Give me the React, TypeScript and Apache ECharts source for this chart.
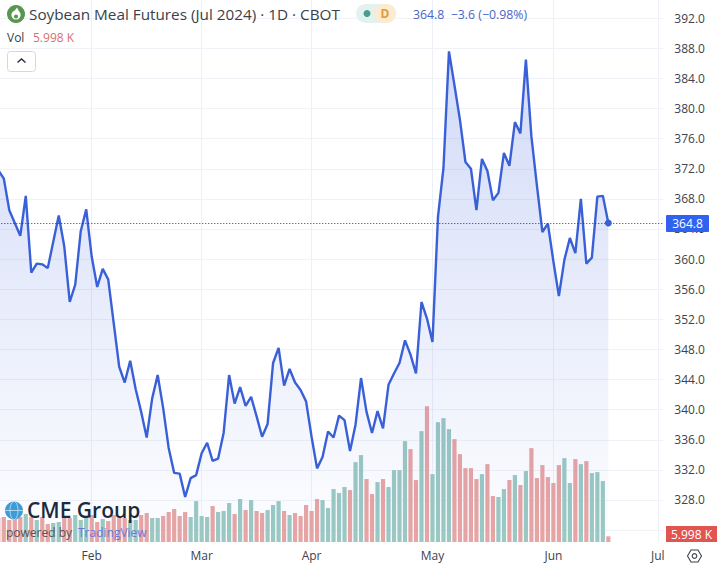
import React, { useEffect, useRef } from "react";
import * as echarts from "echarts";

const tradingDates: string[] = [
  "01-08","01-09","01-10","01-11","01-12","01-16","01-17","01-18","01-19","01-22","01-23","01-24","01-25","01-26","01-29","01-30","01-31",
  "02-01","02-02","02-05","02-06","02-07","02-08","02-09","02-12","02-13","02-14","02-15","02-16","02-20","02-21","02-22","02-23","02-26","02-27","02-28","02-29",
  "03-01","03-04","03-05","03-06","03-07","03-08","03-11","03-12","03-13","03-14","03-15","03-18","03-19","03-20","03-21","03-22","03-25","03-26","03-27","03-28",
  "04-01","04-02","04-03","04-04","04-05","04-08","04-09","04-10","04-11","04-12","04-15","04-16","04-17","04-18","04-19","04-22","04-23","04-24","04-25","04-26","04-29","04-30",
  "05-01","05-02","05-03","05-06","05-07","05-08","05-09","05-10","05-13","05-14","05-15","05-16","05-17","05-20","05-21","05-22","05-23","05-24","05-28","05-29","05-30","05-31",
  "06-03","06-04","06-05","06-06","06-07","06-10","06-11","06-12","06-13","06-14","06-17",
  "06-18","06-20","06-21","06-24","06-25","06-26","06-27","06-28","07-01","07-02",
];

const monthTicks: Record<string, string> = {
  "02-01": "Feb", "03-01": "Mar", "04-01": "Apr", "05-01": "May", "06-03": "Jun", "07-01": "Jul",
};

const closes: number[] = [
  371.8,370.7,366.5,364.8,363.1,368.4,358.2,359.4,359.3,358.8,362.3,365.8,361.7,354.3,356.6,363.7,366.6,
  360.3,356.3,358.7,357.3,351.5,345.7,343.6,346.5,342.7,339.7,336.3,341.5,344.6,340.2,334.9,331.6,331.5,328.4,330.9,331.3,
  334.2,335.6,333.2,333.5,336.9,344.6,340.8,343.0,340.5,341.7,339.1,336.4,338.1,346.2,348.2,343.2,345.4,343.6,342.6,341.1,
  336.4,332.2,333.7,337.1,336.3,339.2,338.6,334.5,338.0,344.2,339.7,336.9,339.8,337.5,343.3,344.8,346.2,349.2,347.3,344.8,354.3,352.1,
  349.0,365.6,372.1,387.6,383.1,378.5,372.9,372.0,366.5,373.3,371.7,367.8,368.8,374.1,372.4,378.2,376.7,386.5,376.3,369.8,363.6,364.7,
  359.7,355.1,359.9,362.8,360.8,368.0,359.4,360.2,368.3,368.4,364.8,
];

const volumesK: number[] = [
  25.2,26.3,23.1,26.3,26.3,29.4,26.3,23.1,26.3,18.9,20.0,21.0,25.2,25.2,28.4,23.1,25.2,
  28.4,21.0,24.2,22.0,28.4,25.2,25.2,23.1,23.1,28.4,30.5,25.2,25.2,27.3,31.5,34.7,27.3,31.5,26.3,43.0,
  27.3,26.3,37.8,31.5,32.6,41.0,29.4,45.2,33.6,44.1,32.6,30.5,33.6,38.9,43.0,32.6,28.4,30.5,27.3,38.9,
  32.6,45.2,44.1,35.7,55.7,51.5,57.8,54.6,84.0,91.4,66.2,50.4,63.0,66.2,57.8,75.6,75.6,106.1,97.7,65.1,116.6,142.8,
  71.4,126.0,130.2,118.7,108.2,92.4,77.7,77.7,66.2,71.4,81.9,48.3,47.3,55.7,65.1,70.4,59.9,74.6,98.7,67.2,80.9,
  68.3,62.0,80.9,88.2,62.0,87.2,81.9,85.1,72.5,73.5,64.1,5.998,
];

// One letter per session: u = teal (up day), d = red (down day)
const volumeDirections: string[] = [
  "d","d","d","d","d","u","d","u","d","d","u","u","d","d","u","u","u",
  "d","d","u","d","d","d","d","u","u","d","d","u","u","d","d","d","d","d","u","u",
  "u","u","d","u","u","u","d","u","d","u","d","d","u","u","u","d","u","d","d","d",
  "d","d","u","u","u","u","u","d","u","u","d","d","u","d","u","u","u","u","d","d","u","d",
  "u","u","u","u","d","d","d","d","d","u","d","d","u","u","d","u","d","u","d","d","d","d",
  "d","d","u","u","d","u","d","u","u","u","d",
];

const lastPrice = closes[closes.length - 1];
const TITLE = "Soybean Meal Futures (Jul 2024) · 1D · CBOT";
const QUOTE = "364.8  −3.6 (−0.98%)";
const PRICE_TAG = "364.8";
const VOL_TAG = "5.998 K";
const FONT = "'Open Sans', 'Noto Sans', sans-serif";

export default function App() {
  const ref = useRef<HTMLDivElement>(null);
  useEffect(() => {
    if (!ref.current) return;
    const chart = echarts.init(ref.current, null, { renderer: "svg" });
    const isTick = (_: number, value: string) => value in monthTicks;
    // The chart's div starts 2px left of the page, so the first session falls just off the picture.
    const gridLeft = 0.3;
    const gridWidth = 665;
    chart.setOption({
      animation: false,
      backgroundColor: "#ffffff",
      textStyle: { fontFamily: FONT },
      grid: [
        { left: gridLeft, width: gridWidth, top: 18.2, height: 542 },
        { left: gridLeft, width: gridWidth, top: 0, height: 542 },
      ],
      xAxis: [
        {
          gridIndex: 0, type: "category", data: tradingDates, boundaryGap: false,
          axisLine: { show: false }, axisTick: { show: false }, axisLabel: { show: false }, splitLine: { show: false },
        },
        {
          gridIndex: 1, type: "category", data: tradingDates, boundaryGap: false,
          axisLine: { show: false }, axisTick: { show: false },
          axisLabel: {
            interval: isTick, margin: 7, fontSize: 12, color: "#3d424d", fontFamily: FONT,
            formatter: (v: string) => monthTicks[v] ?? "",
          },
          splitLine: { show: true, interval: isTick, lineStyle: { color: "#edf0f6", width: 1 } },
        },
      ],
      yAxis: [
        {
          gridIndex: 0, type: "value", position: "right", min: 320, max: 392, interval: 4,
          axisLine: { show: false }, axisTick: { show: false },
          axisLabel: { margin: 11, fontSize: 12, color: "#3d424d", showMinLabel: false, formatter: (v: number) => v.toFixed(1), fontFamily: FONT },
          splitLine: { show: true, showMinLine: false, lineStyle: { color: "#f0f2f7", width: 1 } },
        },
        {
          gridIndex: 1, type: "value", min: 0, max: 570, show: false, splitLine: { show: false },
        },
      ],
      series: [
        {
          type: "bar", xAxisIndex: 1, yAxisIndex: 1, barWidth: 4.2, z: 1,
          data: volumesK.map((v, i) => ({
            value: v,
            itemStyle: { color: volumeDirections[i] === "u" ? "#9bc9c3" : "#e8a5a4" },
          })),
        },
        {
          type: "line", xAxisIndex: 0, yAxisIndex: 0, data: closes, z: 2, showSymbol: false,
          lineStyle: { color: "#3a60d8", width: 2.4 },
          areaStyle: {
            origin: 322.42,
            color: new echarts.graphic.LinearGradient(0, 0, 0, 1, [
              { offset: 0, color: "rgba(41,82,220,0.30)" },
              { offset: 0.55, color: "rgba(41,82,220,0.14)" },
              { offset: 1, color: "rgba(41,82,220,0.01)" },
            ]),
          },
          markLine: {
            silent: true, symbol: "none", animation: false, label: { show: false },
            lineStyle: { color: "#2a2e39", type: [1, 2], width: 1, opacity: 0.95 },
            data: [{ yAxis: lastPrice }],
          },
          markPoint: {
            silent: true, symbol: "circle", symbolSize: 7, animation: false, label: { show: false },
            itemStyle: { color: "#3a60d8" },
            data: [{ coord: [closes.length - 1, lastPrice] }],
          },
        },
      ],
      graphic: [{
        type: "group", x: 2, y: 0, z: 100,
        children: [
          { type: "rect", z: 100, shape: { x: 666, y: 215, width: 43, height: 17, r: 1 }, style: { fill: "#2f62ee" } },
          { type: "text", z: 101, x: 687.5, y: 223.5, style: { text: PRICE_TAG, fill: "#ffffff", fontSize: 12, fontFamily: FONT, align: "center", verticalAlign: "middle" } },
          { type: "rect", z: 100, shape: { x: 666, y: 526, width: 51, height: 16 }, style: { fill: "#e25450" } },
          { type: "text", z: 101, x: 691.5, y: 534, style: { text: VOL_TAG, fill: "#ffffff", fontSize: 12, fontFamily: FONT, align: "center", verticalAlign: "middle" } },

          { type: "circle", z: 100, shape: { cx: 16, cy: 14, r: 9 }, style: { fill: "#57964f" } },
          { type: "polygon", z: 101, shape: { points: [[17, 7.5], [20.5, 14], [12, 14]] }, style: { fill: "#ffffff" } },
          { type: "circle", z: 101, shape: { cx: 16, cy: 15, r: 4.6 }, style: { fill: "#ffffff" } },
          { type: "circle", z: 102, shape: { cx: 16, cy: 16.5, r: 2 }, style: { fill: "#57964f" } },
          { type: "text", z: 100, x: 29, y: 14, style: { text: TITLE, fill: "#3a3f4a", fontSize: 15.3, fontFamily: FONT, verticalAlign: "middle" } },
          { type: "rect", z: 100, shape: { x: 356, y: 4, width: 40, height: 19, r: 9.5 }, style: { fill: "#e3f1ef" } },
          { type: "rect", z: 101, shape: { x: 374, y: 4, width: 22, height: 19, r: 9.5 }, style: { fill: "#fdebd0" } },
          { type: "circle", z: 102, shape: { cx: 367, cy: 13.5, r: 3.5 }, style: { fill: "#4a9d8b" } },
          { type: "text", z: 102, x: 385, y: 13.5, style: { text: "D", fill: "#e39a3a", fontSize: 12, fontWeight: "bold", fontFamily: FONT, align: "center", verticalAlign: "middle" } },
          { type: "text", z: 100, x: 413, y: 14, style: { text: QUOTE, fill: "#4a67c4", fontSize: 12.3, fontFamily: FONT, verticalAlign: "middle" } },
          { type: "text", z: 100, x: 7, y: 37, style: { text: "Vol", fill: "#3a3f4a", fontSize: 12, fontFamily: FONT, verticalAlign: "middle" } },
          { type: "text", z: 100, x: 33, y: 37, style: { text: VOL_TAG, fill: "#d9706c", fontSize: 12, fontFamily: FONT, verticalAlign: "middle" } },
          { type: "rect", z: 100, shape: { x: 7.5, y: 51.5, width: 28, height: 20, r: 3 }, style: { fill: "#ffffff", stroke: "#d5d8df", lineWidth: 1 } },
          { type: "polyline", z: 101, shape: { points: [[17.5, 62.5], [21.5, 59], [25.5, 62.5]] }, style: { stroke: "#2a2e39", lineWidth: 1.4, fill: "none" } },

          { type: "circle", z: 100, shape: { cx: 14, cy: 510.5, r: 9 }, style: { fill: "#3f9bd6" } },
          { type: "ellipse", z: 101, shape: { cx: 14, cy: 510.5, rx: 4, ry: 9 }, style: { fill: "none", stroke: "#d7ecf7", lineWidth: 0.7 } },
          { type: "line", z: 101, shape: { x1: 5, y1: 510.5, x2: 23, y2: 510.5 }, style: { stroke: "#d7ecf7", lineWidth: 0.7 } },
          { type: "text", z: 100, x: 27, y: 510, style: { text: "CME Group", fill: "#1c2a3d", fontSize: 21, lineHeight: 22, fontWeight: 600, fontFamily: FONT, verticalAlign: "middle" } },
          { type: "text", z: 100, x: 6, y: 532, style: { text: "powered by", fill: "#5a5350", fontSize: 12, lineHeight: 13, fontFamily: FONT, verticalAlign: "middle" } },
          { type: "text", z: 100, x: 78, y: 532, style: { text: "TradingView", fill: "#6b78d8", fontSize: 12, lineHeight: 13, fontFamily: FONT, verticalAlign: "middle" } },

          { type: "polygon", z: 100, shape: { points: [[691, 550], [698, 550], [701.5, 556], [698, 562], [691, 562], [687.5, 556]] }, style: { fill: "none", stroke: "#3d424d", lineWidth: 1.1 } },
          { type: "circle", z: 100, shape: { cx: 694.5, cy: 556, r: 2.3 }, style: { fill: "none", stroke: "#3d424d", lineWidth: 1.1 } },
        ],
      }],
    });
    return () => chart.dispose();
  }, []);
  return <div ref={ref} style={{ position: "fixed", left: -2, top: 0, width: 719, height: 566 }} />;
}
